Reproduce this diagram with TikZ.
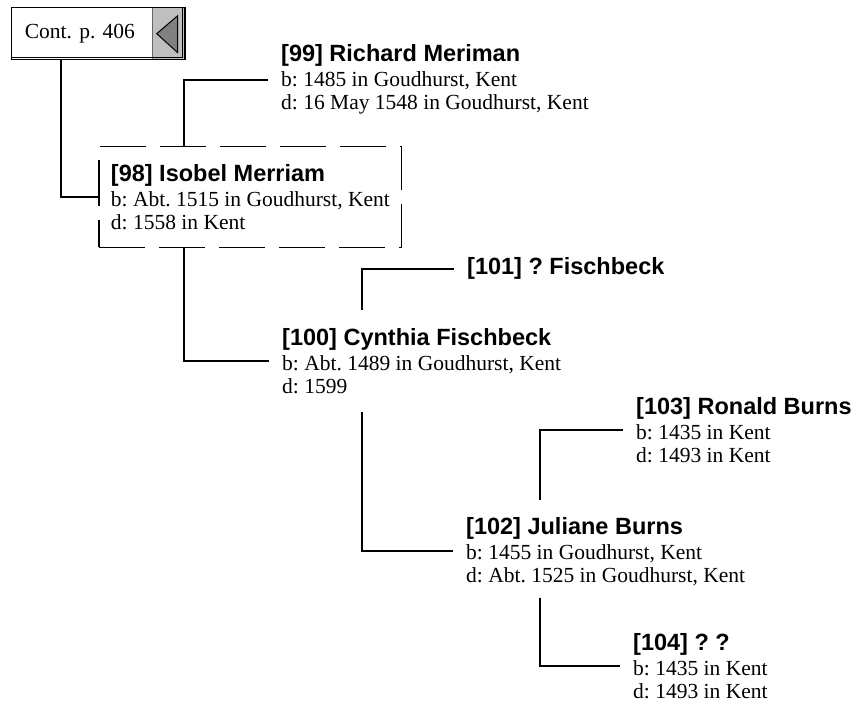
\documentclass[tikz,border=0pt]{standalone}
\usepackage{fontspec}
\setmainfont{Liberation Serif}
\newfontfamily\namefont{Liberation Sans}
\frenchspacing

\newcommand{\pname}[1]{{\namefont\bfseries\fontsize{23.5}{25}\selectfont #1}}

\begin{document}
\begin{tikzpicture}[x=1pt, y=-1pt,
  person/.style={anchor=base west, align=left, inner xsep=13pt, inner ysep=0pt, font=\fontsize{21.5}{23}\selectfont},
  link/.style={line width=2pt},
]
  \useasboundingbox (0,0) rectangle (861,708);

  \node[anchor=north west, minimum height=52pt, text width=147pt, inner xsep=13pt, align=left,
        font=\fontsize{21.5}{23}\selectfont] (cont) at (11.7,7.3) {Cont. p. 406};
  \node[draw=black!60, line width=0.8pt, fill=black!25, anchor=north east, minimum width=32pt, minimum height=52pt, inner sep=0pt] (contbtn) at (cont.north east) {};
  \draw[line width=1pt, fill=black!50] ([shift={(-12pt,0pt)}]contbtn.center) -- ([shift={(9pt,18pt)}]contbtn.center)
       -- ([shift={(9pt,-19pt)}]contbtn.center) -- cycle;
  \draw[line width=1.3pt] (cont.south west) rectangle (cont.north east);
  \draw[line width=0.9pt] ([yshift=2.6pt]cont.south west) -- ([shift={(-2.6pt,2.6pt)}]cont.south east) -- ([xshift=-2.6pt]cont.north east);

  \node[person, anchor=north west, draw, line width=1.3pt, dash pattern=on 46pt off 14pt, minimum height=101pt, inner xsep=12pt] (p98) at (98.3,145.7)
       {\pname{[98] Isobel Merriam}\\[2pt] b: Abt. 1515 in Goudhurst, Kent\\ d: 1558 in Kent};
  \node[person] (p99) at (268,110)
       {\pname{[99] Richard Meriman}\\[2pt] b: 1485 in Goudhurst, Kent\\ d: 16 May 1548 in Goudhurst, Kent};
  \node[person] (p101) at (454,275) {\pname{[101] ? Fischbeck}};
  \node[person] (p100) at (269,393)
       {\pname{[100] Cynthia Fischbeck}\\[2pt] b: Abt. 1489 in Goudhurst, Kent\\ d: 1599};
  \node[person] (p103) at (623,462)
       {\pname{[103] Ronald Burns}\\[2pt] b: 1435 in Kent\\ d: 1493 in Kent};
  \node[person] (p102) at (453,582)
       {\pname{[102] Juliane Burns}\\[2pt] b: 1455 in Goudhurst, Kent\\ d: Abt. 1525 in Goudhurst, Kent};
  \node[person] (p104) at (620,698)
       {\pname{[104] ? ?}\\[2pt] b: 1435 in Kent\\ d: 1493 in Kent};

  \draw[link] ([xshift=49pt]cont.south west) |- (p98.west);
  \draw[link] ([xshift=86pt]p98.north west) |- (p99.west);
  \draw[link] ([xshift=86pt]p98.south west) |- (p100.west);
  \draw[link] ([xshift=93pt,yshift=18pt]p100.north west) |- (p101.west);
  \draw[link] ([xshift=93pt,yshift=-18pt]p100.south west) |- (p102.west);
  \draw[link] ([xshift=87pt,yshift=17pt]p102.north west) |- (p103.west);
  \draw[link] ([xshift=87pt,yshift=-12pt]p102.south west) |- (p104.west);
\end{tikzpicture}
\end{document}
